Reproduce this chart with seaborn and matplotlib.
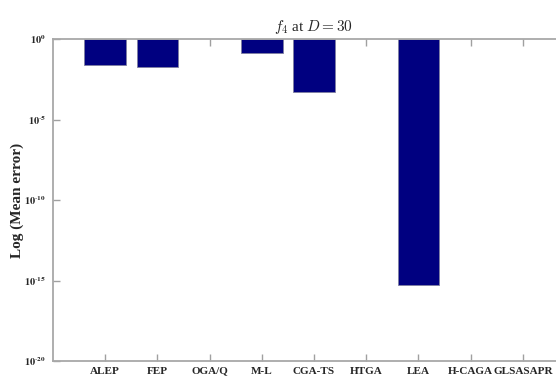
import numpy as np
import pandas as pd
import matplotlib
matplotlib.use("Agg")
import matplotlib.pyplot as plt
import seaborn as sns

algorithms = ["ALEP", "FEP", "OGA/Q", "M-L", "CGA-TS", "HTGA", "LEA", "H-CAGA", "GLSASAPR"]
mean_error = [0.025, 0.017, 0.0, 0.13, 4.8e-4, 0.0, 5.5e-16, 0.0, 0.0]
ytick_exps = [0, -5, -10, -15, -20]

sns.set_theme(style="white")
plt.rcParams["font.family"] = ["Liberation Serif", "DejaVu Serif"]
plt.rcParams["mathtext.fontset"] = "stix"

vals = np.array(mean_error, dtype=float)
log_vals = np.where(vals > 0, np.log10(np.where(vals > 0, vals, 1.0)), np.nan)
df = pd.DataFrame({"alg": algorithms, "logerr": log_vals})

fig = plt.figure(figsize=(5.56, 3.76), dpi=100)
ax = fig.add_axes([53 / 556, 15 / 376, 522 / 556, 322 / 376])

sns.barplot(data=df, x="alg", y="logerr", order=algorithms, color="#000080",
            saturation=1, width=0.8, edgecolor="#8080a0", linewidth=0.6, ax=ax)

ax.set_xlim(-1, 9)
ax.set_ylim(-20, 0)
ax.set_yticks(ytick_exps)
ax.set_yticklabels([r"$\mathbf{10}^{\mathbf{\text{-}%d}}$" % abs(e) if e else r"$\mathbf{10}^{\mathbf{0}}$"
                    for e in ytick_exps], fontsize=7.5)
ax.set_xticks(range(len(algorithms)))
ax.set_xticklabels(algorithms, fontsize=8, fontweight="bold")
ax.tick_params(axis="x", direction="in", length=5, width=1, color="#a0a0a0",
               top=True, bottom=True, pad=4)
ax.tick_params(axis="y", direction="in", length=5, width=1, color="#a0a0a0",
               left=True, right=True, pad=5)
for s in ax.spines.values():
    s.set_color("#a8a8a8")
    s.set_linewidth(1.3)
    s.set_visible(True)

ax.set_xlabel("")
ax.set_ylabel("Log (Mean error)", fontsize=11, fontweight="bold")
ax.yaxis.set_label_coords(-0.056, 0.5)
t = ax.set_title(r"$f_4$ at $D = 30$", fontsize=11, pad=6)
t.set_math_fontfamily("cm")

fig.savefig("out.png", dpi=100)
